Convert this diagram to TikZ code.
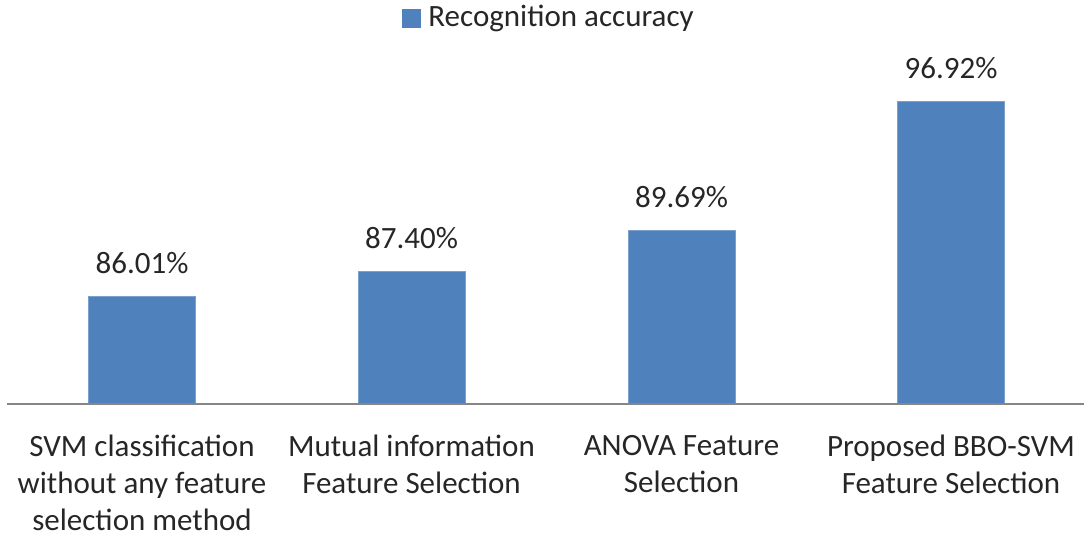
\documentclass[tikz,border=0pt]{standalone}
\usepackage{fontspec}
\setmainfont{Carlito}
\usepackage{xcolor}
\definecolor{barblue}{RGB}{79,129,189}
\definecolor{axisgray}{RGB}{134,134,134}
\definecolor{ink}{RGB}{38,38,38}
\usepackage{tikz}
\usetikzlibrary{positioning}
\tikzset{
  bar/.style={fill=barblue,draw=barblue!75!white,line width=0.6pt,%
    inner sep=0pt,minimum width=107pt,anchor=south},
  val/.style={font=\fontsize{31}{37}\selectfont,text=ink,inner sep=0pt},
  cat/.style={font=\fontsize{31}{37}\selectfont,text=ink,inner sep=0pt,align=center},
  key/.style={fill=barblue,inner sep=0pt,minimum size=19pt},
  axis/.style={draw=axisgray,line width=1.5pt},
}

\begin{document}
\begin{tikzpicture}[x=1pt,y=1pt]
\useasboundingbox (0,0) rectangle (1084,539);
% legend
\node[key] (key) at (411.5,520.5) {};
\node[val,right=7pt of key] (keytxt) {Recognition accuracy};
% bars
\node[bar,minimum height=107.4pt] (svm) at (142,135) {};
\node[bar,minimum height=132.2pt] (mi) at (411.5,135) {};
\node[bar,minimum height=173.2pt] (anova) at (681.5,135) {};
\node[bar,minimum height=302.4pt] (bbo) at (951,135) {};
% axis
\coordinate (ax0) at (7,135);
\coordinate (ax1) at (1084,135);
\draw[axis] (ax0) -- (ax1);
% values
\node[val,above=22pt of svm] (vsvm) {86.01\%};
\node[val,above=22pt of mi] (vmi) {87.40\%};
\node[val,above=22pt of anova] (vanova) {89.69\%};
\node[val,above=22pt of bbo] (vbbo) {96.92\%};
% categories
\node[cat,below=31pt of svm] (csvm) {SVM classification\\without any feature\\selection method};
\node[cat,below=31pt of mi] (cmi) {Mutual information\\Feature Selection};
\node[cat,below=31pt of anova] (canova) {ANOVA Feature\\Selection};
\node[cat,below=31pt of bbo] (cbbo) {Proposed BBO-SVM\\Feature Selection};
\end{tikzpicture}
\end{document}
